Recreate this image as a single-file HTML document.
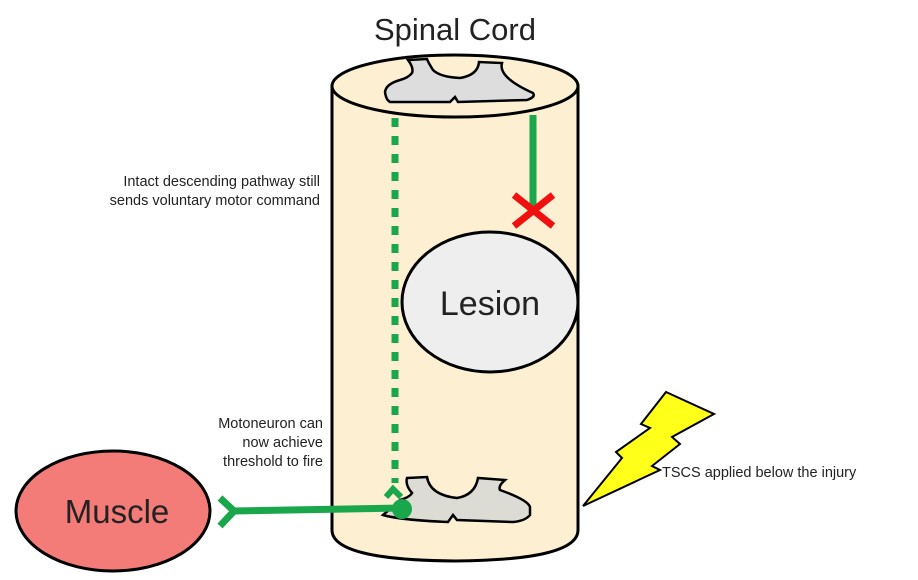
<!DOCTYPE html>
<html><head><meta charset="utf-8"><style>
html,body{margin:0;padding:0;background:#fff;width:918px;height:580px;overflow:hidden}
svg text{font-family:"Liberation Sans",sans-serif;fill:#222}
</style></head><body>
<svg width="918" height="580" viewBox="0 0 918 580" xmlns="http://www.w3.org/2000/svg">
<text x="455" y="40" font-size="31" text-anchor="middle">Spinal Cord</text>
<!-- cylinder -->
<path d="M332,86 L332,530 Q332,560 455,561 Q578,560 578,530 L578,86 Z" fill="#fdf0d2" stroke="#000" stroke-width="3"/>
<ellipse cx="455" cy="86" rx="123" ry="31" fill="#fdf0d2" stroke="#000" stroke-width="3"/>
<!-- top gray -->
<path d="M408,60 Q414,68 412,73 Q408,78 400,80 Q386,84 385,92 Q386,100 390,102 L450,102 L455,97 L458,102 L527,100 Q536,97 533,93 Q515,85 507,77 Q500,70 502,63 L479,62 Q478,75 460,78 Q440,77 433,70 Q428,62 427,59 Z" fill="#ddd" stroke="#000" stroke-width="2.5"/>
<!-- bottom gray -->
<path d="M407,478 L427,477 Q430,495 457,498 Q475,495 478,478 L505,480 Q498,486 500,490 Q528,500 530,507 L530,515 Q525,521 513,522 L457,520 L453,515 L448,522 Q400,520 383,515 Q395,505 400,500 Q410,497 412,493 Q405,485 407,478 Z" fill="#dcdcd4" stroke="#000" stroke-width="2.5"/>
<!-- dotted pathway -->
<line x1="395" y1="118" x2="395" y2="483" stroke="#1aa64a" stroke-width="7" stroke-dasharray="9,9"/>
<polyline points="386,497 393,489 401,497" fill="none" stroke="#1aa64a" stroke-width="6"/>
<!-- solid pathway -->
<line x1="533" y1="115" x2="533" y2="207" stroke="#1aa64a" stroke-width="7"/>
<line x1="514" y1="195" x2="553" y2="226" stroke="#f01010" stroke-width="7"/>
<line x1="553" y1="195" x2="514" y2="226" stroke="#f01010" stroke-width="7"/>
<!-- lesion -->
<ellipse cx="490" cy="302" rx="88" ry="70" fill="#eeeeee" stroke="#000" stroke-width="3"/>
<text x="490" y="315" font-size="34" text-anchor="middle">Lesion</text>
<!-- muscle -->
<ellipse cx="113" cy="511" rx="97" ry="60" fill="#f37b78" stroke="#000" stroke-width="3"/>
<text x="117" y="523" font-size="33" text-anchor="middle">Muscle</text>
<!-- motor axon -->
<line x1="232" y1="511" x2="402" y2="508" stroke="#1aa64a" stroke-width="7"/>
<polyline points="220,498 234,511 220,526" fill="none" stroke="#1aa64a" stroke-width="7"/>
<circle cx="402" cy="509" r="10" fill="#1aa64a"/>
<!-- bolt -->
<polygon points="666,392 714,414 672,437 680,444 652,466 660,470 583,506 622,458 616,452 650,428 641,424" fill="#ffff1a" stroke="#000" stroke-width="2"/>
<text x="320" y="186" font-size="14.5" text-anchor="end">Intact descending pathway still</text>
<text x="320" y="205" font-size="14.5" text-anchor="end">sends voluntary motor command</text>
<text x="323" y="428" font-size="14.5" text-anchor="end">Motoneuron can</text>
<text x="323" y="447" font-size="14.5" text-anchor="end">now achieve</text>
<text x="323" y="466" font-size="14.5" text-anchor="end">threshold to fire</text>
<text x="662" y="477" font-size="14.5">TSCS applied below the injury</text>
</svg>
</body></html>
